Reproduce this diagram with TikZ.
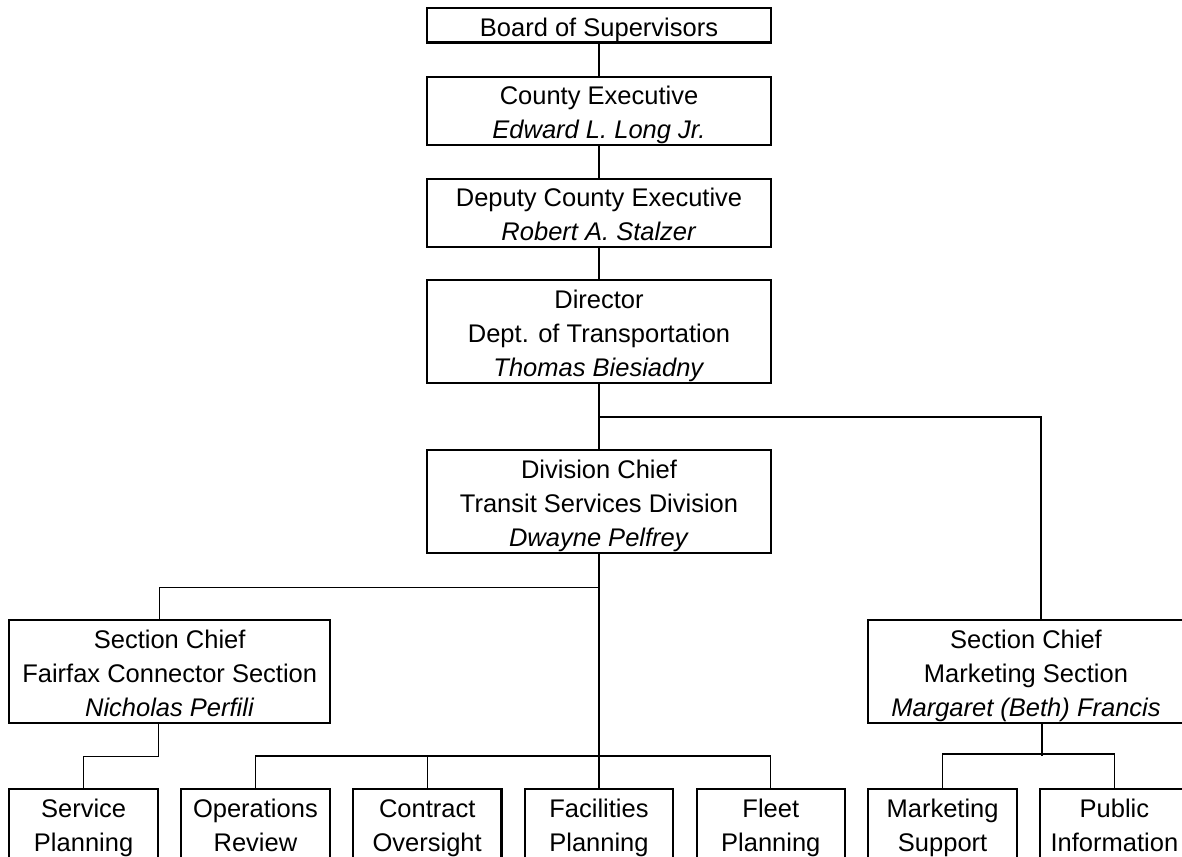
\documentclass[tikz,border=0pt]{standalone}
\usepackage{fontspec}
\setmainfont{Liberation Sans}
\newcommand{\orgfont}{\fontsize{25.5}{34.2}\selectfont}

\begin{document}
\begin{tikzpicture}[x=1pt,y=-1pt,every path/.append style={line width=1.3pt},
		post/.style={draw,line width=2.1pt,inner sep=0pt,align=center,anchor=north,font=\orgfont,
			text depth=6.2pt},
		one/.style={post,text height=28pt},
		two/.style={post,text height=62.2pt},
		three/.style={post,text height=96.4pt},
		unit/.style={two,minimum width=148.5,text depth=12pt}]
			\useasboundingbox (0,0) rectangle (1182,856);
			\node (Board) at (599, 7.3) [one, minimum width=344] {Board of Supervisors};
			\node (CE)  at (599, 75.7) [two, minimum width=344]  {County Executive\\\textit{Edward L. Long Jr.}};
			\draw (Board) -- (CE);
			\node (DCE) at (599, 177.7) [two, minimum width=344] {Deputy County Executive\\\textit{Robert A. Stalzer}};
			\draw (CE) -- (DCE);
			\node (Dir) at (599, 279.3) [three, minimum width=344] {Director\\Dept. of Transportation\\\textit{Thomas Biesiadny}};
			\draw (DCE) -- (Dir);
			\node (Div) at (599, 449) [three, minimum width=344] {Division Chief\\Transit Services Division\\\textit{Dwayne Pelfrey}};
			\draw (Dir) -- (Div);
			\node (FCS) at (169.7, 619) [three, minimum width=320.7] {Section Chief\\Fairfax Connector Section\\\textit{Nicholas Perfili}};
			\node (MS)  at (1026, 619) [three, minimum width=316] {Section Chief\\Marketing Section\\\textit{Margaret (Beth) Francis}};
			\draw (Dir.south) ++(0,33) -| ([xshift=15]MS.north);
			\draw (Div.south) ++(0,34) -| ([xshift=-10.5]FCS.north);
			% bottom row
			\node (SP)   at (83.6, 788)   [unit] {Service\\Planning};
			\node (OR)   at (255.4, 788)  [unit] {Operations\\Review};
			\node (CO)   at (427.2, 788)  [unit] {Contract\\Oversight};
			\node (FP)   at (599, 788)    [unit] {Facilities\\Planning};
			\node (FlP)  at (770.8, 788)  [unit] {Fleet\\Planning};
			\node (MSup) at (942.6, 788)  [unit] {Marketing\\Support};
			\node (PI)   at (1114.4, 788) [unit] {Public\\Information};
			\draw (Div) -- (FP);
			\draw (OR.north) -- ++(0,-32) -| (FlP);
			\draw (CO.north) -- ++(0,-32);
			\draw ([xshift=-11.5]FCS.south) -- ++(0,33) -| (SP);
			\draw ([xshift=16]MS.south) -- ++(0,32.4);
			\draw (MSup.north) -- ++(0,-34) -| (PI);
		\end{tikzpicture}
\end{document}
